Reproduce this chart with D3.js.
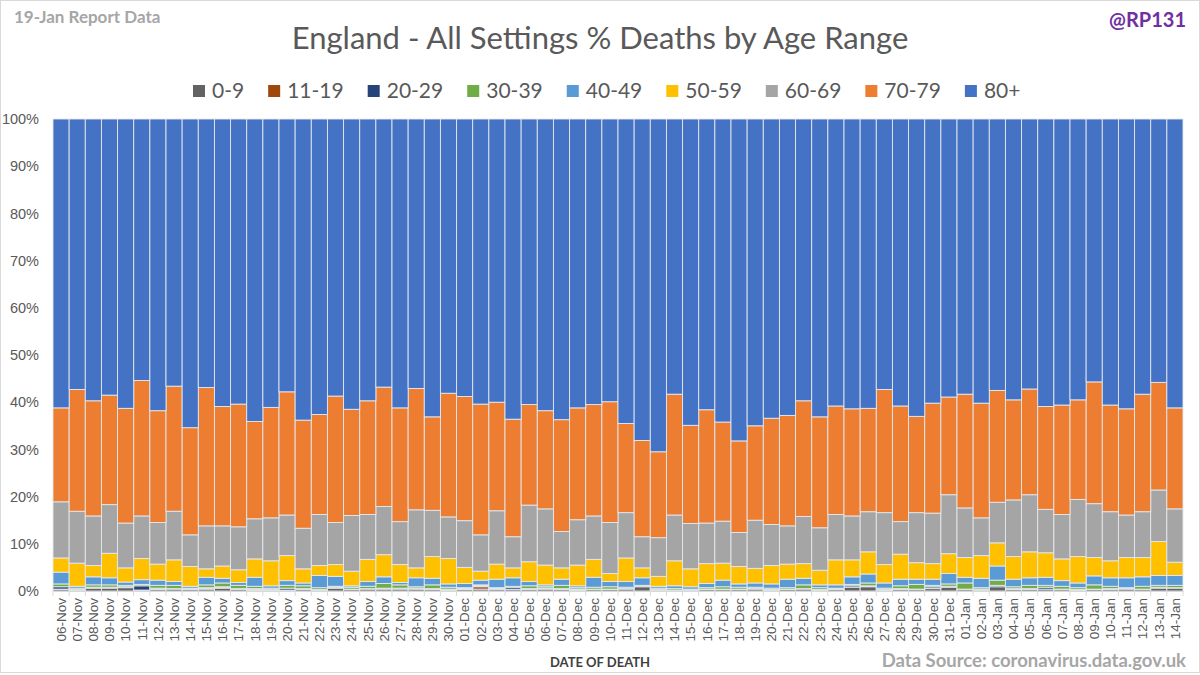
<!DOCTYPE html>
<html>
<head>
<meta charset="utf-8">
<script src="https://cdn.jsdelivr.net/npm/d3@7"></script>
<style>
  body { margin: 0; background: #fff; }
  svg { display: block; font-family: Lato, "Open Sans", sans-serif; }
</style>
</head>
<body>
<svg id="mainsvg" width="1200" height="675"></svg>
<script>
// dates of death
const dates = ['06-Nov','07-Nov','08-Nov','09-Nov','10-Nov','11-Nov','12-Nov','13-Nov','14-Nov','15-Nov',
  '16-Nov','17-Nov','18-Nov','19-Nov','20-Nov','21-Nov','22-Nov','23-Nov','24-Nov','25-Nov',
  '26-Nov','27-Nov','28-Nov','29-Nov','30-Nov','01-Dec','02-Dec','03-Dec','04-Dec','05-Dec',
  '06-Dec','07-Dec','08-Dec','09-Dec','10-Dec','11-Dec','12-Dec','13-Dec','14-Dec','15-Dec',
  '16-Dec','17-Dec','18-Dec','19-Dec','20-Dec','21-Dec','22-Dec','23-Dec','24-Dec','25-Dec',
  '26-Dec','27-Dec','28-Dec','29-Dec','30-Dec','31-Dec','01-Jan','02-Jan','03-Jan','04-Jan',
  '05-Jan','06-Jan','07-Jan','08-Jan','09-Jan','10-Jan','11-Jan','12-Jan','13-Jan','14-Jan'];

const ageRanges = ['0-9','11-19','20-29','30-39','40-49','50-59','60-69','70-79','80+'];
const colors = ['#636363','#9e480e','#264478','#70ad47','#5b9bd5','#ffc000','#a5a5a5','#ed7d31','#4472c4'];

// % of deaths per age range
const age0_9 = [0.3,0.2,0.6,0.6,0.7,0.2,0.3,0.4,0.3,0.4, 0.6,0.3,0.2,0.2,0.2,0.3,0.2,0.6,0.3,0.4,
  0.4,0.4,0.4,0.3,0.2,0.3,0.4,0.3,0.3,0.3, 0.4,0.3,0.2,0.3,0.3,0.4,0.9,0.2,0.1,0.1,
  0.3,0.3,0.3,0.4,0.2,0.3,0.4,0.2,0.3,0.8, 0.9,0.2,0.3,0.3,0.5,0.8,0.3,0.2,0.9,0.3,
  0.3,0.4,0.3,0.2,0.3,0.3,0.4,0.3,0.6,0.6];
const age11_19 = [0.1,0.0,0.1,0.0,0.1,0.0,0.1,0.0,0.0,0.1, 0.1,0.1,0.1,0.0,0.0,0.1,0.0,0.1,0.0,0.0,
  0.1,0.0,0.1,0.0,0.1,0.0,0.5,0.1,0.0,0.0, 0.1,0.0,0.1,0.0,0.0,0.0,0.0,0.0,0.0,0.0,
  0.0,0.0,0.0,0.0,0.0,0.0,0.0,0.0,0.0,0.0, 0.0,0.0,0.0,0.0,0.1,0.0,0.0,0.0,0.0,0.0,
  0.1,0.0,0.0,0.0,0.0,0.0,0.0,0.0,0.0,0.0];
const age20_29 = [0.5,0.1,0.1,0.2,0.1,0.9,0.2,0.1,0.1,0.2, 0.2,0.1,0.2,0.1,0.4,0.1,0.1,0.1,0.1,0.1,
  0.1,0.2,0.1,0.2,0.1,0.2,0.2,0.1,0.4,0.2, 0.1,0.2,0.1,0.1,0.1,0.1,0.1,0.1,0.1,0.1,
  0.1,0.1,0.1,0.1,0.1,0.1,0.1,0.1,0.1,0.3, 0.2,0.1,0.2,0.1,0.3,0.2,0.1,0.2,0.3,0.2,
  0.1,0.4,0.1,0.1,0.1,0.2,0.1,0.1,0.2,0.1];
const age30_39 = [0.6,0.3,0.5,0.5,0.3,0.3,0.6,0.7,0.2,0.6, 0.8,0.7,0.5,0.3,0.6,0.6,0.4,0.2,0.4,0.5,
  1.0,0.7,0.3,0.8,0.4,0.2,0.2,0.2,0.3,0.6, 0.3,0.7,0.3,0.4,0.5,0.3,0.2,0.3,0.3,0.2,
  0.3,0.5,0.4,0.3,0.3,0.3,0.8,0.4,0.2,0.3, 0.6,0.3,0.6,1.0,0.3,0.5,1.3,0.3,1.1,0.4,
  0.7,0.4,0.6,0.4,0.9,0.5,0.2,0.6,0.4,0.5];
const age40_49 = [2.5,0.4,1.7,1.5,0.7,1.0,1.1,0.8,0.4,1.6, 1.0,0.6,1.9,0.5,1.0,0.6,2.6,2.1,0.3,1.0,
  1.4,0.5,1.9,1.4,0.7,0.9,1.0,1.8,1.8,0.9, 0.4,1.3,0.4,2.1,1.1,1.2,1.6,0.4,0.6,0.5,
  0.9,1.4,0.7,0.9,0.9,1.8,1.4,0.6,0.7,1.6, 1.9,1.1,1.4,1.1,1.3,2.2,1.2,2.0,3.0,1.6,
  1.6,1.7,1.2,1.0,1.9,1.8,2.1,2.0,2.1,2.1];
const age50_59 = [3.0,4.9,2.4,5.2,3.0,4.5,3.4,4.6,4.2,1.8, 2.6,2.7,3.9,5.3,5.3,3.0,2.1,2.5,3.1,4.7,
  4.7,3.8,2.1,4.6,5.4,3.4,1.9,3.2,2.1,4.2, 4.2,2.4,4.4,3.8,1.7,5.0,2.1,2.1,5.3,3.8,
  4.2,3.6,3.7,3.1,3.9,3.2,3.1,3.1,5.3,3.6, 4.7,3.9,5.3,3.5,3.3,4.2,4.2,4.8,4.9,4.8,
  5.5,5.2,4.6,5.6,3.9,3.6,4.3,4.1,7.2,2.8];
const age60_69 = [11.9,11.0,10.5,10.3,9.5,9.0,8.8,10.3,6.7,9.1, 8.5,9.1,8.5,9.1,8.6,8.6,10.8,8.9,11.8,9.5,
  10.2,9.1,12.3,9.8,8.8,9.9,7.7,11.3,6.6,12.0, 11.9,7.7,9.6,9.2,10.8,9.6,6.6,8.2,9.7,9.6,
  8.6,8.9,7.2,10.2,8.7,8.1,10.0,9.0,9.6,9.3, 8.5,11.0,6.9,10.6,10.7,12.5,10.5,8.0,8.6,12.0,
  12.1,9.2,9.4,12.1,11.4,10.4,9.0,9.7,10.9,11.3];
const age70_79 = [19.9,25.8,24.4,23.2,24.3,28.7,23.7,26.5,22.7,29.3, 25.3,26.0,20.6,23.4,26.1,22.9,21.2,26.8,22.5,24.1,
  25.3,24.1,25.7,19.8,26.2,26.3,27.7,23.0,24.9,21.3, 20.8,23.7,23.7,23.6,25.6,18.9,20.4,18.2,25.6,20.8,
  24.0,21.0,19.4,20.0,22.5,23.4,24.5,23.5,23.0,22.7, 21.9,26.1,24.5,20.4,23.3,20.7,24.1,24.3,23.7,21.2,
  22.4,21.8,23.2,21.1,25.8,22.6,22.5,24.9,22.8,21.4];
const age80plus = [61.2,57.3,59.7,58.5,61.3,55.4,61.8,56.6,65.4,56.9, 60.9,60.4,64.1,61.1,57.8,63.8,62.6,58.7,61.5,59.7,
  56.8,61.2,57.1,63.1,58.1,58.8,60.4,60.0,63.6,60.5, 61.8,63.7,61.2,60.5,59.9,64.5,68.1,70.5,58.3,64.9,
  61.6,64.2,68.2,65.0,63.4,62.8,59.7,63.1,60.8,61.4, 61.3,57.3,60.8,63.0,60.2,58.9,58.3,60.2,57.5,59.5,
  57.2,60.9,60.6,59.5,55.7,60.6,61.4,58.3,55.8,61.2];

const yTicks = [0,0.1,0.2,0.3,0.4,0.5,0.6,0.7,0.8,0.9,1];

const seriesValues = [age0_9, age11_19, age20_29, age30_39, age40_49, age50_59, age60_69, age70_79, age80plus];
const table = dates.map((d, i) => {
  const row = {date: d};
  ageRanges.forEach((a, j) => { row[a] = seriesValues[j][i]; });
  return row;
});

const svg = d3.select('#mainsvg');
const margin = {top: 119, right: 17, bottom: 84, left: 53};
const width = +svg.attr('width') - margin.left - margin.right;
const height = +svg.attr('height') - margin.top - margin.bottom;

// outer frame
svg.append('rect').attr('x', 0.5).attr('y', 0.5).attr('width', 1199).attr('height', 672)
  .attr('fill', '#fff').attr('stroke', '#d9d9d9');

const chartGroup = svg.append('g').attr('transform', `translate(${margin.left},${margin.top})`);

const xScale = d3.scaleBand().domain(dates).range([0, width]).padding(0);
const yScale = d3.scaleLinear().domain([0, 1]).range([height, 0]);
const colorScale = d3.scaleOrdinal().domain(ageRanges).range(colors);

const stacked = d3.stack().keys(ageRanges).offset(d3.stackOffsetExpand)(table);

// bars
chartGroup.selectAll('.layer').data(stacked).enter().append('g')
  .attr('class', 'layer')
  .attr('fill', d => colorScale(d.key))
  .selectAll('rect').data(d => d).enter().append('rect')
  .attr('x', d => xScale(d.data.date))
  .attr('y', d => yScale(d[1]))
  .attr('width', xScale.bandwidth())
  .attr('height', d => yScale(d[0]) - yScale(d[1]))
  .attr('stroke', '#e4e8ee')
  .attr('stroke-width', 0.9);

// y axis
const yAxis = chartGroup.append('g')
  .call(d3.axisLeft(yScale).tickValues(yTicks).tickFormat(d3.format('.0%')).tickSize(0).tickPadding(14));
yAxis.select('.domain').remove();
yAxis.selectAll('text').attr('fill', '#595959').style('font-size', '14.5px');

// x axis
const xAxis = chartGroup.append('g')
  .attr('transform', `translate(0,${height})`)
  .call(d3.axisBottom(xScale).tickSize(0).tickPadding(0));
xAxis.select('.domain').attr('stroke', '#d9d9d9');
xAxis.selectAll('text')
  .attr('fill', '#595959')
  .style('font-size', '13.5px')
  .attr('text-anchor', 'end')
  .attr('transform', 'rotate(-90)')
  .attr('x', -7)
  .attr('y', 0)
  .attr('dy', '0.35em');
// tick marks at bar edges
chartGroup.append('g').selectAll('line').data(dates.concat(['end'])).enter().append('line')
  .attr('x1', (d, i) => i * xScale.step()).attr('x2', (d, i) => i * xScale.step())
  .attr('y1', height).attr('y2', height + 5)
  .attr('stroke', '#d9d9d9');

// titles
svg.append('text').attr('x', 600).attr('y', 49).attr('text-anchor', 'middle')
  .attr('fill', '#595959').style('font-size', '31px')
  .text('England - All Settings % Deaths by Age Range');
svg.append('text').attr('x', 14).attr('y', 23)
  .attr('fill', '#a6a6a6').style('font-size', '17px').style('font-weight', 'bold')
  .text('19-Jan Report Data');
svg.append('text').attr('x', 1186).attr('y', 27).attr('text-anchor', 'end')
  .attr('fill', '#7030a0').style('font-size', '20px').style('font-weight', 'bold')
  .text('@RP131');
svg.append('text').attr('x', 600).attr('y', 667).attr('text-anchor', 'middle')
  .attr('fill', '#404040').style('font-size', '13px').style('font-weight', 'bold')
  .text('DATE OF DEATH');
svg.append('text').attr('x', 1186).attr('y', 667).attr('text-anchor', 'end')
  .attr('fill', '#a6a6a6').style('font-size', '18.5px').style('font-weight', 'bold')
  .text('Data Source: coronavirus.data.gov.uk');

// legend
const legend = svg.append('g').attr('transform', 'translate(193,91)');
let lx = 0;
ageRanges.forEach((a, i) => {
  const item = legend.append('g').attr('transform', `translate(${lx},0)`);
  item.append('rect').attr('x', 0).attr('y', -6).attr('width', 12).attr('height', 12)
    .attr('fill', colors[i]);
  const t = item.append('text').attr('x', 19).attr('y', 0).attr('dy', '0.35em')
    .attr('fill', '#595959').style('font-size', '21px').text(a);
  lx += 19 + t.node().getComputedTextLength() + 24;
});
</script>
</body>
</html>
